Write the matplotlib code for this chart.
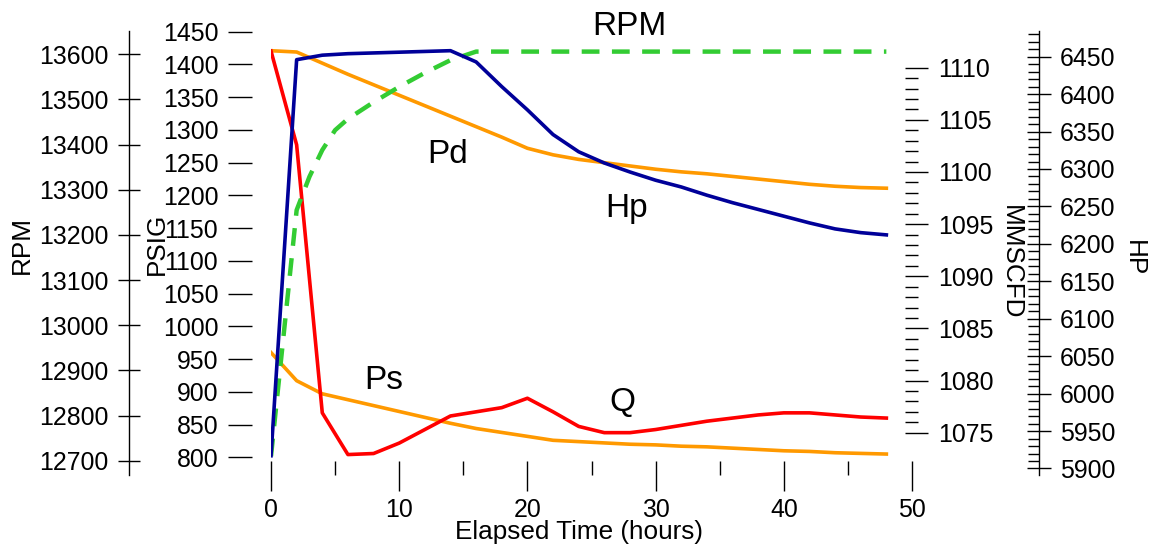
import matplotlib
matplotlib.use('Agg')
import matplotlib.pyplot as plt
from matplotlib.ticker import FixedLocator

plt.rcParams['font.family'] = ['Liberation Sans', 'DejaVu Sans']

# ---------------- data ----------------
hours = [0, 2, 4, 6, 8, 10, 12, 14, 16, 18, 20, 22, 24,
         26, 28, 30, 32, 34, 36, 38, 40, 42, 44, 46, 48]
pd_psig = [1421, 1419, 1402, 1385, 1369, 1353, 1337, 1321, 1305, 1289, 1272, 1262, 1255,
           1250, 1245, 1240, 1236, 1233, 1229, 1225, 1221, 1217, 1214, 1212, 1211]
ps_psig = [960, 917, 897, 888, 879, 870, 861, 852, 844, 838, 832, 826, 824,
           822, 820, 819, 817, 816, 814, 812, 810, 809, 807, 806, 805]
q_mmscfd = [1111.6, 1102.6, 1076.9, 1072.9, 1073.0, 1074.0, 1075.3, 1076.6, 1077.0, 1077.4,
            1078.3, 1077.0, 1075.6, 1075.0, 1075.0, 1075.3, 1075.7, 1076.1, 1076.4, 1076.7,
            1076.9, 1076.9, 1076.7, 1076.5, 1076.4]
hp_values = [5917, 6446, 6452, 6454, 6455, 6456, 6457, 6458, 6443, 6410, 6379, 6346, 6323,
             6308, 6296, 6285, 6276, 6265, 6255, 6246, 6237, 6228, 6220, 6215, 6212]
rpm_hours = [0, 2, 3, 4, 5, 6, 8, 10, 12, 14, 16, 18, 20, 22, 24,
             26, 28, 30, 32, 34, 36, 38, 40, 42, 44, 46, 48]
rpm_values = [12710, 13255, 13329, 13388, 13432, 13457, 13494, 13528, 13559, 13587, 13606,
              13606, 13606, 13606, 13606, 13606, 13606, 13606, 13606, 13606, 13606,
              13606, 13606, 13606, 13606, 13606, 13606]

x_major = [0, 10, 20, 30, 40, 50]
x_minor = [5, 15, 25, 35, 45]
psig_ticks = list(range(800, 1451, 50))
rpm_ticks = list(range(12700, 13601, 100))
mmscfd_major = list(range(1075, 1111, 5))
mmscfd_minor = list(range(1075, 1111, 1))
hp_major = list(range(5900, 6451, 50))
hp_minor = list(range(5900, 6481, 10))

# ---------------- layout ----------------
W, H = 1152, 549
fig = plt.figure(figsize=(W / 100, H / 100), dpi=100)
L, R, T, B = 271, 912, 31, 475
aw, ah = R - L, B - T
rect = [L / W, 1 - B / H, aw / W, ah / H]


def ax_x(px):
    return (px - L) / aw


def fx(px):
    return px / W


def fy(py):
    return 1 - py / H


ax_p = fig.add_axes(rect)
ax_q = fig.add_axes(rect)
ax_r = fig.add_axes(rect)
ax_h = fig.add_axes(rect)

for ax in (ax_p, ax_q, ax_r, ax_h):
    ax.set_xlim(0, 50)
    for s in ax.spines.values():
        s.set_visible(False)
    ax.patch.set_visible(False)
for ax in (ax_q, ax_r, ax_h):
    ax.xaxis.set_visible(False)

ax_p.set_ylim(773.0, 1451.1)
ax_r.set_ylim(12668.4, 13651.6)
ax_q.set_ylim(1070.94, 1113.52)
ax_h.set_ylim(5891.3, 6484.3)

LS = 17.9
TL = 18.8

# PSIG axis (no spine)
ax_p.yaxis.set_ticks_position('left')
ax_p.spines['left'].set_position(('axes', ax_x(252)))
ax_p.yaxis.set_major_locator(FixedLocator(psig_ticks))
ax_p.tick_params(axis='y', direction='out', length=17.3, width=1.0, pad=7, labelsize=LS)

# X axis
ax_p.spines['bottom'].set_position(('axes', (B - 461) / ah))
ax_p.xaxis.set_major_locator(FixedLocator(x_major))
ax_p.xaxis.set_minor_locator(FixedLocator(x_minor))
ax_p.tick_params(axis='x', which='major', direction='out', length=21.6, width=1.0,
                 pad=5, labelsize=LS)
ax_p.tick_params(axis='x', which='minor', direction='out', length=10, width=1.0)

# RPM axis
ax_r.yaxis.set_ticks_position('left')
ax_r.spines['left'].set_visible(True)
ax_r.spines['left'].set_linewidth(1.0)
ax_r.spines['left'].set_position(('axes', ax_x(129)))
ax_r.yaxis.set_major_locator(FixedLocator(rpm_ticks))
ax_r.tick_params(axis='y', direction='inout', length=15.8, width=1.0, pad=7, labelsize=LS)

# MMSCFD axis (no spine)
ax_q.yaxis.tick_right()
ax_q.spines['right'].set_position(('axes', ax_x(905)))
ax_q.yaxis.set_major_locator(FixedLocator(mmscfd_major))
ax_q.yaxis.set_minor_locator(FixedLocator(mmscfd_minor))
ax_q.tick_params(axis='y', which='major', direction='out', length=16.6, width=1.0,
                 pad=7.2, labelsize=LS)
ax_q.tick_params(axis='y', which='minor', direction='out', length=9.4, width=1.0)

# HP axis
ax_h.yaxis.tick_right()
ax_h.spines['right'].set_visible(True)
ax_h.spines['right'].set_linewidth(1.0)
ax_h.spines['right'].set_position(('axes', ax_x(1039)))
ax_h.yaxis.set_major_locator(FixedLocator(hp_major))
ax_h.yaxis.set_minor_locator(FixedLocator(hp_minor))
ax_h.tick_params(axis='y', which='major', direction='inout', length=17.3, width=1.0,
                 pad=6.5, labelsize=LS)
ax_h.tick_params(axis='y', which='minor', direction='in', length=7.9, width=1.0)

# ---------------- lines ----------------
LW = 2.6
ax_p.plot(hours, pd_psig, color='#ff9900', lw=LW, solid_joinstyle='round')
ax_p.plot(hours, ps_psig, color='#ff9900', lw=LW, solid_joinstyle='round')
ax_q.plot(hours, q_mmscfd, color='#ff0000', lw=LW, solid_joinstyle='round')
ax_r.plot(rpm_hours, rpm_values, color='#33cc33', lw=3.2, dashes=(4.0, 2.8),
          dash_capstyle='butt')
ax_h.plot(hours, hp_values, color='#000099', lw=LW, solid_joinstyle='round')

# ---------------- texts ----------------
TS = 24
fig.text(fx(629), fy(35), 'RPM', fontsize=TS, ha='center', va='baseline')
fig.text(fx(448), fy(163), 'Pd', fontsize=TS, ha='center', va='baseline')
fig.text(fx(627), fy(217), 'Hp', fontsize=TS, ha='center', va='baseline')
fig.text(fx(384), fy(389), 'Ps', fontsize=TS, ha='center', va='baseline')
fig.text(fx(622), fy(411), 'Q', fontsize=TS, ha='center', va='baseline')

fig.text(fx(579), fy(532), 'Elapsed Time (hours)', fontsize=TL, ha='center', va='center')
fig.text(fx(21.5), fy(245), 'RPM', fontsize=TL, ha='center', va='center', rotation=90)
fig.text(fx(157), fy(244), 'PSIG', fontsize=TL, ha='center', va='center', rotation=90)
fig.text(fx(1011), fy(262), 'MMSCFD', fontsize=TL, ha='center', va='center', rotation=270)
fig.text(fx(1134), fy(258), 'HP', fontsize=TL, ha='center', va='center', rotation=270)

fig.savefig('out.png', dpi=100)
